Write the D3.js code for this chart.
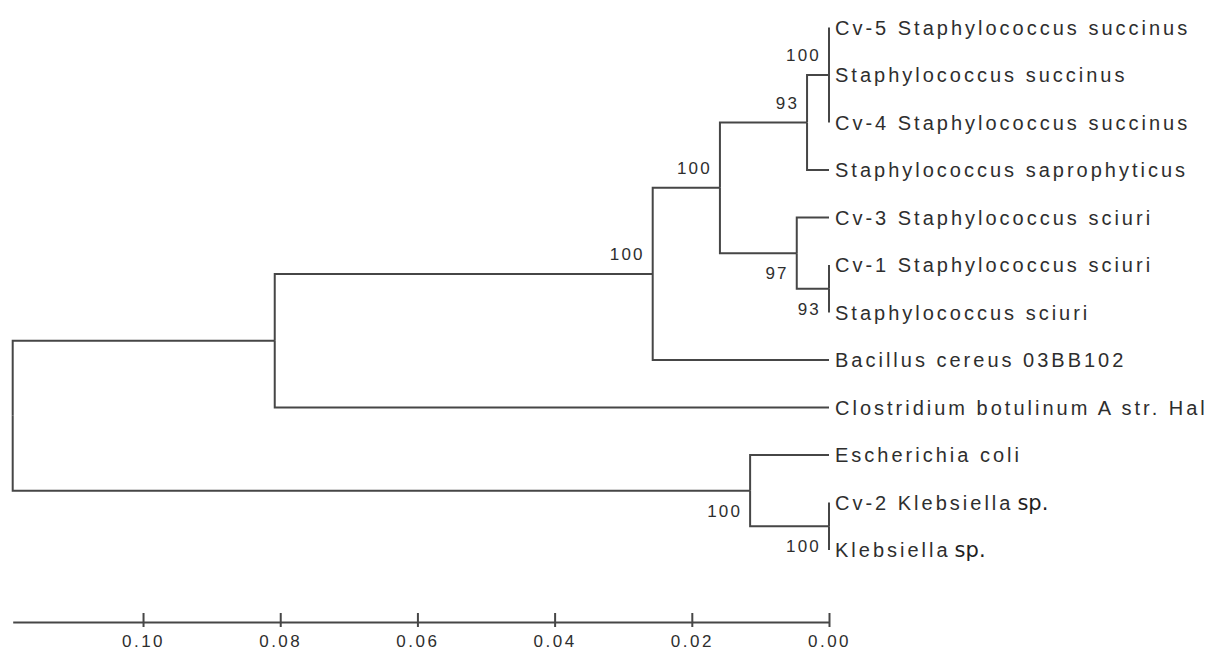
<!DOCTYPE html>
<html>
<head>
<meta charset="utf-8">
<script src="https://cdn.jsdelivr.net/npm/d3@7"></script>
<style>
  html, body { margin: 0; padding: 0; background: #fff; }
  svg { display: block; }
  .branch { fill: none; stroke: #464646; stroke-width: 2; }
  .taxon { font-family: "Liberation Sans", Arial, sans-serif; font-size: 20px; letter-spacing: 3px; fill: #2e2e2e; }
  .taxon .sp { font-family: "DejaVu Sans", Verdana, sans-serif; font-size: 21px; letter-spacing: 0; fill: #1e1e1e; }
  .support { font-family: "Liberation Sans", Arial, sans-serif; font-size: 17px; letter-spacing: 2.2px; fill: #2e2e2e; }
  .scale .domain, .scale line { stroke: #464646; stroke-width: 2; }
  .scale text { font-family: "Liberation Sans", Arial, sans-serif; font-size: 17px; letter-spacing: 2.5px; fill: #2e2e2e; }
</style>
</head>
<body>
<svg id="tree" width="1214" height="652"></svg>
<script>
// Terminal taxa, top to bottom
const taxa = [
  "Cv-5 Staphylococcus succinus",
  "Staphylococcus succinus",
  "Cv-4 Staphylococcus succinus",
  "Staphylococcus saprophyticus",
  "Cv-3 Staphylococcus sciuri",
  "Cv-1 Staphylococcus sciuri",
  "Staphylococcus sciuri",
  "Bacillus cereus 03BB102",
  "Clostridium botulinum A str. Hal",
  "Escherichia coli",
  "Cv-2 Klebsiella sp.",
  "Klebsiella sp."
];

// Internal nodes: name, children, height (distance from tips), bootstrap support
const nodeNames = ["succinus", "succinusSapro", "sciuriPair", "sciuriClade", "staph",
                   "bacillusStaph", "firmicutes", "klebsiella", "entero", "root"];
const nodeChildren = [
  ["Cv-5 Staphylococcus succinus", "Staphylococcus succinus", "Cv-4 Staphylococcus succinus"],
  ["succinus", "Staphylococcus saprophyticus"],
  ["Cv-1 Staphylococcus sciuri", "Staphylococcus sciuri"],
  ["Cv-3 Staphylococcus sciuri", "sciuriPair"],
  ["succinusSapro", "sciuriClade"],
  ["staph", "Bacillus cereus 03BB102"],
  ["bacillusStaph", "Clostridium botulinum A str. Hal"],
  ["Cv-2 Klebsiella sp.", "Klebsiella sp."],
  ["Escherichia coli", "klebsiella"],
  ["firmicutes", "entero"]
];
const nodeHeights = [0.0, 0.0032, 0.0, 0.0047, 0.0159, 0.0257, 0.0808, 0.0, 0.0115, 0.1190];
const nodeSupport = [100, 93, 93, 97, 100, 100, null, 100, 100, null];

// Scale bar ticks
const scaleTicks = [0.10, 0.08, 0.06, 0.04, 0.02, 0.00];

// ---- build the hierarchy ----
const nodeIndex = new Map(nodeNames.map((n, i) => [n, i]));
function build(name) {
  if (nodeIndex.has(name)) {
    const i = nodeIndex.get(name);
    return { name, height: nodeHeights[i], support: nodeSupport[i],
             children: nodeChildren[i].map(build) };
  }
  return { name, height: 0, support: null };
}
const root = d3.hierarchy(build("root"));

const svg = d3.select("#tree");
const x = d3.scaleLinear().domain([root.data.height, 0]).range([12.7, 829]);
const y = d3.scalePoint().domain(taxa).range([27.5, 550]);

// positions: tips from the scale, internal nodes centred on their outer children
root.eachAfter(d => {
  d.px = x(d.data.height);
  if (d.children) {
    const first = d.children[0], last = d.children[d.children.length - 1];
    d.py = (first.py + last.py) / 2;
  } else {
    d.py = y(d.data.name);
  }
});

// branches: vertical at the parent, horizontal to the child
svg.append("g").selectAll("path")
  .data(root.links())
  .join("path")
  .attr("class", "branch")
  .attr("d", l => `M${l.source.px},${l.source.py}V${l.target.py}H${l.target.px}`);

// tip labels
const tips = svg.append("g").selectAll("text")
  .data(root.leaves())
  .join("text")
  .attr("class", "taxon")
  .attr("x", d => d.px + 6)
  .attr("y", d => d.py)
  .attr("dy", "0.36em");
tips.each(function (d) {
  const t = d3.select(this);
  const m = d.data.name.match(/^(.*) (sp\.)$/);
  if (m) {
    t.append("tspan").text(m[1]);
    t.append("tspan").attr("class", "sp").attr("dx", 4).text(m[2]);
  } else {
    t.text(d.data.name);
  }
});

// bootstrap values: above for an upper child, below otherwise
svg.append("g").selectAll("text")
  .data(root.descendants().filter(d => d.children && d.data.support != null))
  .join("text")
  .attr("class", "support")
  .attr("text-anchor", "end")
  .attr("x", d => d.px - 8)
  .attr("y", d => (d.parent && d.parent.children[0] === d) ? d.py - 14 : d.py + 26)
  .text(d => d.data.support);

// scale bar
const axis = d3.axisBottom(x)
  .tickValues(scaleTicks)
  .tickFormat(d3.format(".2f"))
  .tickSizeInner(5)
  .tickSizeOuter(0)
  .tickPadding(8);
const gAxis = svg.append("g")
  .attr("class", "scale")
  .attr("transform", "translate(0,622)")
  .call(axis);
gAxis.selectAll(".tick line").attr("y1", -9).attr("y2", 5);
</script>
</body>
</html>
